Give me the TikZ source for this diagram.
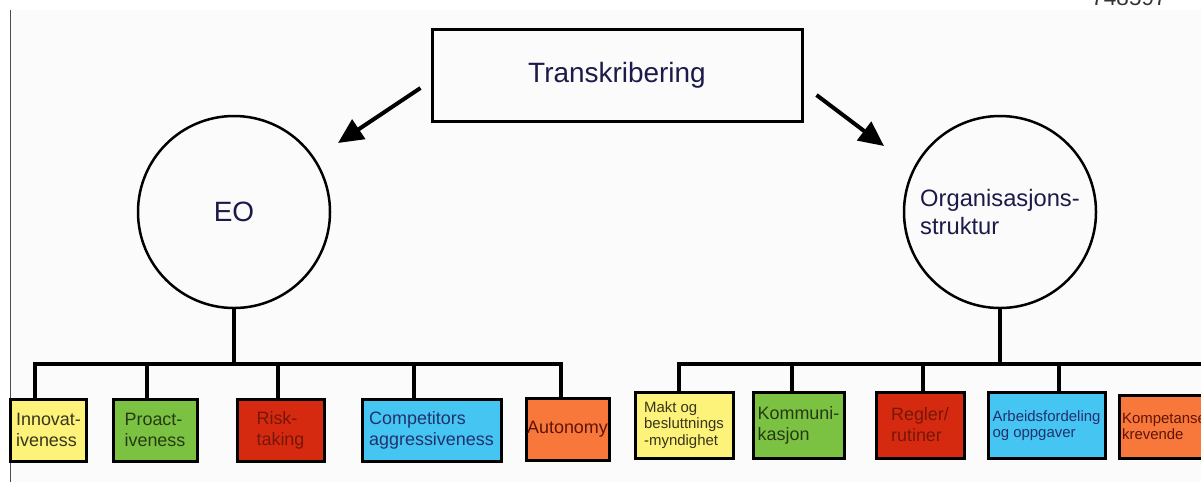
\documentclass[tikz,border=0pt]{standalone}
\usepackage{fontspec}
\setmainfont{Liberation Sans}
\usetikzlibrary{arrows.meta,calc}

\definecolor{boxyellow}{HTML}{FDF27A}
\definecolor{boxgreen}{HTML}{7CC242}
\definecolor{boxred}{HTML}{D62A10}
\definecolor{boxblue}{HTML}{45C5F2}
\definecolor{boxorange}{HTML}{F8783C}
\definecolor{inkblue}{HTML}{1C1A48}
\definecolor{navytext}{HTML}{22306E}

\begin{document}
\begin{tikzpicture}[x=0.2mm, y=-0.2mm,
    topbox/.style={rectangle, draw=black, line width=0.6mm, minimum width=74mm, minimum height=18.4mm, text=inkblue, font=\fontsize{15.9}{19}\selectfont},
    bigcircle/.style={circle, draw=black, line width=0.5mm, minimum size=38.4mm, inner sep=0pt, text=inkblue},
    leaf/.style={rectangle, draw=black, line width=0.6mm, minimum height=12.4mm, align=left, inner xsep=0.6mm, inner ysep=0.5mm, font=\fontsize{10.2}{11.9}\selectfont},
    smallleaf/.style={leaf, minimum height=13.2mm, font=\fontsize{8.5}{9.4}\selectfont},
    arrow/.style={line width=0.8mm, -{Triangle[length=5mm, width=4.6mm]}},
    bus/.style={line width=0.8mm}
]
    \useasboundingbox (0,0) rectangle (1201,482);
    \clip (0,0) rectangle (1201,482);

    % page behind the diagram
    \fill[gray!3] (10,10) rectangle (1201,482);
    \draw[gray!60!black, line width=0.25mm] (10.5,10) -- (10.5,482);
    \node[anchor=base, text=black!80, font=\fontsize{12.8}{14}\selectfont] (pageno) at (1129,5) {748597};

    % top and the two main concepts
    \node[topbox] (trans) at (617, 75) {Transkribering};
    \node[bigcircle, font=\fontsize{15.9}{19}\selectfont] (eo) at (234, 212) {EO};
    \node[bigcircle, align=left, font=\fontsize{13.5}{15.9}\selectfont] (org) at (1000, 212) {Organisasjons-\\struktur};

    \coordinate (eoTip) at (338, 143);
    \coordinate (orgTip) at (884, 146);
    \draw[arrow] ($(trans.west)+(-10,13)$) -- (eoTip);
    \draw[arrow] ($(trans.east)+(13,20)$) -- (orgTip);

    % EO dimensions
    \node[leaf, minimum width=15mm, fill=boxyellow, text=boxyellow!22!black] (innov) at (48.5, 430) {Innovat-\\iveness};
    \node[leaf, minimum width=16.8mm, fill=boxgreen, text=boxgreen!30!black] (proact) at (155, 430) {Proact-\\iveness};
    \node[leaf, minimum width=17.4mm, fill=boxred, text=boxred!55!black] (risk) at (280.5, 430) {Risk-\\taking};
    \node[leaf, minimum width=27.8mm, fill=boxblue, text=navytext] (comp) at (431.5, 430) {Competitors\\aggressiveness};
    \node[leaf, minimum width=16.6mm, inner xsep=0.1mm, fill=boxorange, text=boxred!45!black] (auto) at (567.5, 429) {Autonomy};

    % structure dimensions
    \node[smallleaf, minimum width=19.6mm, fill=boxyellow, text=boxyellow!22!black] (makt) at (684, 425) {Makt og\\besluttnings\\-myndighet};
    \node[leaf, minimum width=18.2mm, minimum height=13.2mm, fill=boxgreen, text=boxgreen!30!black] (komm) at (798.5, 425) {Kommuni-\\kasjon};
    \node[leaf, minimum width=17.6mm, minimum height=13.2mm, fill=boxred, text=boxred!55!black] (regler) at (920, 425) {Regler/\\rutiner};
    \node[smallleaf, minimum width=23.4mm, fill=boxblue, text=navytext] (arbeid) at (1046.5, 425.5) {Arbeidsfordeling\\og oppgaver};
    \node[smallleaf, minimum width=19mm, minimum height=12.6mm, fill=boxorange, text=boxred!45!black] (kompet) at (1166.5, 426.5) {Kompetanse-\\krevende};

    % tree under EO
    \coordinate (eoBus) at (234, 364);
    \draw[bus] (eo.south) -- (eoBus);
    \foreach \n/\d in {innov/-2.7, proact/-1.6, risk/-0.5, comp/-3.5, auto/-1.3}
        \draw[bus] ([xshift=\d mm]\n.north) |- (eoBus);

    % tree under Organisasjonsstruktur
    \coordinate (orgBus) at (1000, 364);
    \coordinate (orgEnd) at (1215, 364);
    \draw[bus] (org.south) -- (orgBus);
    \draw[bus] (orgBus) -- (orgEnd);
    \foreach \n/\d in {makt/-1.0, komm/-1.3, regler/0.6, arbeid/2.5}
        \draw[bus] ([xshift=\d mm]\n.north) |- (orgBus);

\end{tikzpicture}
\end{document}
